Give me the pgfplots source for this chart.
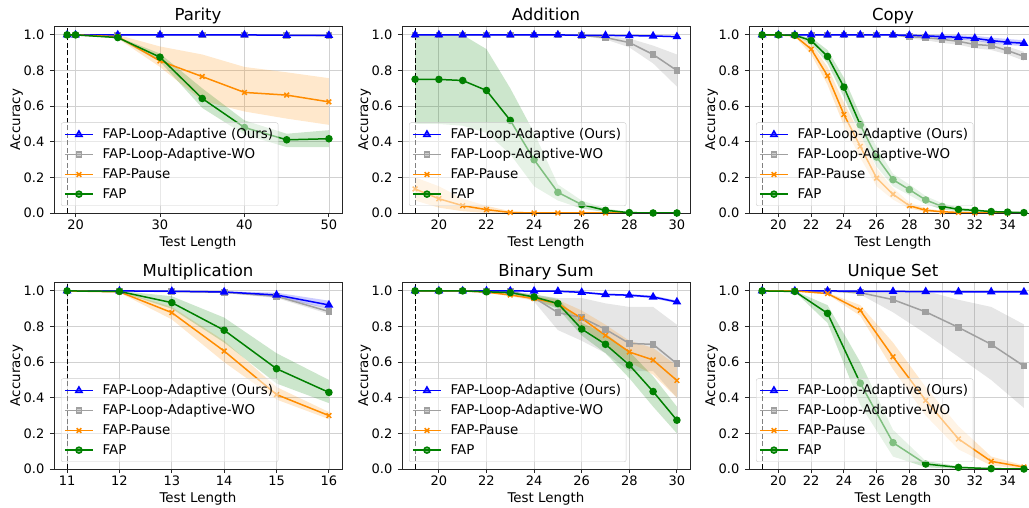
\documentclass[border=0pt]{standalone}
\usepackage{fontspec}
\setmainfont{DejaVu Sans}
\usepackage{pgfplots}
\usepackage{pgfplotstable}
\usepgfplotslibrary{fillbetween}
\pgfplotsset{compat=1.18}

\definecolor{cblue}{RGB}{0,0,255}
\definecolor{cgray}{RGB}{160,160,160}
\definecolor{cband}{RGB}{128,128,128}
\definecolor{corange}{RGB}{255,140,0}
\definecolor{cgreen}{RGB}{0,128,0}

% columns: x, b = FAP-Loop-Adaptive, w = -WO, p = FAP-Pause, f = FAP (with lo/hi band)
\pgfplotstableread{
x  b     blo   bhi   w     wlo   whi   p     plo   phi   f     flo   fhi
19 1     1     1     1     1     1     1     1     1     1     1     1
20 1     1     1     1     1     1     1     1     1     1     1     1
25 1     0.998 1     1     0.998 1     0.99  0.98  1     0.985 0.98  0.99
30 1     0.998 1     1     0.998 1     0.854 0.82  0.935 0.875 0.85  0.895
35 1     0.998 1     1     0.998 1     0.766 0.63  0.89  0.643 0.59  0.70
40 1     0.998 1     1     0.998 1     0.677 0.57  0.82  0.48  0.44  0.52
45 0.998 0.995 1     0.998 0.995 1     0.662 0.53  0.79  0.411 0.37  0.445
50 0.997 0.994 1     0.996 0.993 1     0.624 0.495 0.757 0.417 0.37  0.465
}\tparity

\pgfplotstableread{
x  b     blo   bhi   w     wlo   whi   p     plo   phi   f     flo   fhi
19 1     1     1     1     1     1     0.135 0.07  0.20  0.751 0.50  1.0
20 1     1     1     1     1     1     0.08  0.03  0.15  0.75  0.50  1.0
21 1     1     1     1     1     1     0.041 0.01  0.08  0.744 0.49  1.0
22 1     1     1     1     1     1     0.019 0     0.04  0.688 0.45  0.92
23 1     1     1     1     1     1     0.003 0     0.01  0.52  0.33  0.70
24 1     1     1     1     1     1     0     0     0     0.299 0.15  0.45
25 1     1     1     1     1     1     0     0     0     0.116 0.07  0.16
26 0.998 0.996 1     0.997 0.995 0.999 0     0     0     0.047 0.025 0.07
27 0.997 0.995 0.999 0.985 0.975 0.995 0     0     0     0.015 0.005 0.025
28 0.996 0.993 0.999 0.957 0.93  0.98  0     0     0     0.002 0     0.005
29 0.994 0.991 0.997 0.89  0.84  0.94  0     0     0     0     0     0
30 0.99  0.986 0.994 0.80  0.71  0.89  0     0     0     0     0     0
}\taddition

\pgfplotstableread{
x  b     blo   bhi   w     wlo   whi   p     plo   phi   f     flo   fhi
19 1     1     1     1     1     1     1     1     1     1     1     1
20 1     1     1     1     1     1     1     1     1     1     1     1
21 1     1     1     1     1     1     0.995 0.99  1     0.998 0.995 1
22 1     1     1     1     1     1     0.92  0.89  0.95  0.968 0.95  0.985
23 1     1     1     1     1     1     0.77  0.72  0.82  0.879 0.84  0.915
24 1     1     1     1     1     1     0.553 0.49  0.62  0.707 0.65  0.76
25 1     1     1     1     1     1     0.374 0.31  0.44  0.495 0.44  0.55
26 1     1     1     1     1     1     0.196 0.15  0.25  0.314 0.26  0.37
27 1     1     1     1     0.998 1     0.105 0.075 0.14  0.187 0.15  0.22
28 0.998 0.995 1     0.99  0.98  1     0.041 0.025 0.06  0.131 0.10  0.16
29 0.995 0.99  1     0.985 0.97  0.998 0.015 0.007 0.025 0.073 0.05  0.095
30 0.99  0.98  1     0.975 0.955 0.99  0.007 0.002 0.012 0.037 0.02  0.055
31 0.987 0.975 0.998 0.964 0.945 0.982 0.003 0     0.006 0.02  0.01  0.03
32 0.981 0.967 0.995 0.946 0.925 0.967 0.001 0     0.002 0.015 0.008 0.022
33 0.968 0.952 0.985 0.94  0.915 0.962 0     0     0     0.008 0.004 0.012
34 0.959 0.943 0.977 0.912 0.89  0.935 0     0     0     0.005 0.002 0.008
35 0.953 0.937 0.97  0.879 0.855 0.905 0     0     0     0.002 0     0.004
}\tcopy

\pgfplotstableread{
x  b     blo   bhi   w     wlo   whi   p     plo   phi   f     flo   fhi
11 1     1     1     1     1     1     1     1     1     1     1     1
12 1     1     1     1     1     1     0.995 0.99  1     0.997 0.995 1
13 0.998 0.995 1     0.997 0.994 1     0.878 0.84  0.91  0.934 0.90  0.97
14 0.994 0.99  0.998 0.992 0.988 0.996 0.662 0.60  0.72  0.779 0.71  0.85
15 0.977 0.965 0.99  0.97  0.96  0.98  0.418 0.39  0.46  0.563 0.48  0.65
16 0.921 0.90  0.945 0.884 0.87  0.90  0.30  0.28  0.32  0.43  0.37  0.50
}\tmult

\pgfplotstableread{
x  b     blo   bhi   w     wlo   whi   p     plo   phi   f     flo   fhi
19 1     1     1     1     1     1     1     1     1     1     1     1
20 1     1     1     1     1     1     1     1     1     1     1     1
21 1     1     1     1     1     1     1     1     1     1     1     1
22 1     1     1     1     1     1     0.993 0.99  0.997 0.995 0.99  1
23 1     1     1     1     1     1     0.977 0.97  0.985 0.99  0.985 0.995
24 0.999 0.997 1     0.962 0.94  0.98  0.957 0.945 0.97  0.966 0.95  0.98
25 0.998 0.995 1     0.878 0.78  0.96  0.929 0.91  0.95  0.929 0.90  0.955
26 0.992 0.987 0.997 0.85  0.72  0.96  0.846 0.80  0.89  0.786 0.75  0.82
27 0.98  0.975 0.986 0.784 0.65  0.93  0.75  0.70  0.81  0.70  0.65  0.76
28 0.976 0.97  0.982 0.705 0.55  0.91  0.657 0.60  0.72  0.584 0.51  0.66
29 0.966 0.958 0.974 0.70  0.55  0.91  0.612 0.53  0.68  0.435 0.35  0.52
30 0.938 0.93  0.946 0.591 0.40  0.81  0.497 0.40  0.58  0.274 0.20  0.35
}\tbinsum

\pgfplotstableread{
x  b     blo   bhi   w     wlo   whi   p     plo   phi   f     flo   fhi
19 1     1     1     1     1     1     1     1     1     1     1     1
21 1     1     1     1     1     1     1     1     1     0.997 0.995 1
23 1     1     1     1     1     1     0.985 0.98  0.99  0.874 0.82  0.92
25 0.998 0.996 1     0.99  0.98  1     0.891 0.86  0.92  0.482 0.36  0.60
27 0.997 0.995 0.999 0.951 0.88  1     0.63  0.56  0.71  0.148 0.07  0.22
29 0.996 0.994 0.998 0.882 0.76  1     0.385 0.30  0.46  0.028 0.01  0.045
31 0.995 0.993 0.997 0.795 0.63  0.95  0.169 0.11  0.24  0.009 0     0.015
33 0.995 0.993 0.997 0.70  0.50  0.91  0.043 0.02  0.07  0.002 0     0.005
35 0.994 0.992 0.996 0.578 0.343 0.812 0.011 0     0.02  0     0     0
}\tunique

\pgfplotsset{
  panel/.style={
    scale only axis, width=288pt, height=187pt,
    anchor=south west,
    ymin=0, ymax=1.05,
    ytick={0,0.2,0.4,0.6,0.8,1.0},
    yticklabel style={/pgf/number format/fixed, /pgf/number format/fixed zerofill, /pgf/number format/precision=1},
    /pgf/number format/assume math mode=true,
    tick label style={font=\fontsize{13}{15}\selectfont},
    xticklabel style={anchor=base, yshift=-12.8pt},
    yticklabel style={anchor=east, inner sep=0pt, xshift=-5.3pt},
    grid=major,
    major grid style={line width=0.8pt, draw=black!18},
    axis line style={line width=0.9pt, draw=black!85},
    tick style={line width=0.9pt, draw=black!85},
    major tick length=4.2pt,
    tick align=outside, tick pos=left,
    title style={at={(axis description cs:0.5,1)}, anchor=base, yshift=-0.5pt, font=\fontsize{16.5}{19}\selectfont},
    xlabel={Test Length}, ylabel={Accuracy},
    label style={font=\fontsize{13.4}{16}\selectfont},
    xlabel style={at={(axis description cs:0.5,0)}, anchor=base, yshift=-34pt},
    ylabel style={at={(axis description cs:-0.118,0.5)}, anchor=base},
    legend cell align=left,
    legend style={at={(0,0)}, anchor=south west, xshift=7pt, yshift=7pt,
      font=\fontsize{13.4}{16}\selectfont,
      fill=white, fill opacity=0.5, text opacity=1, draw=black!20,
      rounded corners=2pt, row sep=4.4pt, inner xsep=3pt, inner ysep=4pt,
      /tikz/every odd column/.append style={column sep=7pt}},
    legend image code/.code={\draw[mark repeat=2,mark phase=2,##1] plot coordinates {(0pt,0pt)(14pt,0pt)(28pt,0pt)};},
  },
  sblue/.style={cblue, line width=1.5pt, mark=triangle*, mark size=3.6pt, mark options={solid, fill=cblue}},
  sgray/.style={cgray, line width=1.5pt, mark=square*, mark size=2.6pt, mark options={solid, fill=cgray}},
  sorange/.style={corange, line width=1.5pt, mark=x, mark size=3.3pt, mark options={solid}},
  sgreen/.style={cgreen, line width=1.5pt, mark=*, mark size=3pt, mark options={solid, fill=cgreen}},
}

\newcommand{\band}[4]{% table, lo, hi, color
  \addplot[name path=lo, draw=none, forget plot] table[x=x, y=#2]{#1};
  \addplot[name path=hi, draw=none, forget plot] table[x=x, y=#3]{#1};
  \addplot[fill=#4, fill opacity=0.2, draw=none, forget plot] fill between[of=lo and hi];
}

\newcommand{\panel}[8]{% x, y, title, table, xmin, xmax, xtick, vline
\begin{axis}[panel, at={(#1pt,#2pt)}, title={#3}, xmin=#5, xmax=#6, xtick={#7}]
  \addlegendimage{sblue}\addlegendentry{FAP-Loop-Adaptive (Ours)}
  \addlegendimage{sgray}\addlegendentry{FAP-Loop-Adaptive-WO}
  \addlegendimage{sorange}\addlegendentry{FAP-Pause}
  \addlegendimage{sgreen}\addlegendentry{FAP}
  \band{#4}{wlo}{whi}{cband}
  \band{#4}{blo}{bhi}{cblue}
  \band{#4}{plo}{phi}{corange}
  \band{#4}{flo}{fhi}{cgreen}
  \addplot[sgray, forget plot] table[x=x, y=w]{#4};
  \addplot[sblue, forget plot] table[x=x, y=b]{#4};
  \addplot[sorange, forget plot] table[x=x, y=p]{#4};
  \addplot[sgreen, forget plot] table[x=x, y=f]{#4};
  \addplot[black, line width=1pt, dash pattern=on 5pt off 2.5pt, forget plot] coordinates {(#8,0) (#8,1.05)};
\end{axis}}

\begin{document}
\begin{tikzpicture}
\panel{54}{295}{Parity}{\tparity}{17.45}{51.55}{20,30,40,50}{19}
\panel{402}{295}{Addition}{\taddition}{18.45}{30.55}{20,22,24,26,28,30}{19}
\panel{749}{295}{Copy}{\tcopy}{18.2}{35.8}{20,22,24,26,28,30,32,34}{19}
\panel{54}{39}{Multiplication}{\tmult}{10.75}{16.25}{11,12,13,14,15,16}{11}
\panel{402}{39}{Binary Sum}{\tbinsum}{18.45}{30.55}{20,22,24,26,28,30}{19}
\panel{749}{39}{Unique Set}{\tunique}{18.2}{35.8}{20,22,24,26,28,30,32,34}{19}
\pgfresetboundingbox
\path[use as bounding box] (0pt,0pt) rectangle (1029pt,508pt);
\end{tikzpicture}
\end{document}
